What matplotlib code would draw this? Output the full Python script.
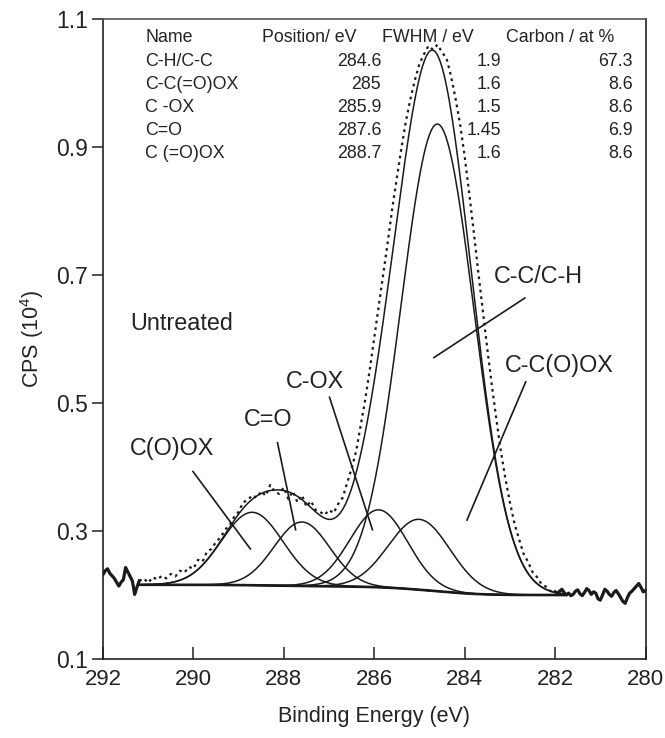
import numpy as np
import matplotlib
matplotlib.use('Agg')
import matplotlib.pyplot as plt

plt.rcParams['font.family'] = ['Liberation Sans', 'DejaVu Sans']
plt.rcParams['mathtext.fontset'] = 'custom'
plt.rcParams['mathtext.rm'] = 'Liberation Sans'
plt.rcParams['mathtext.default'] = 'regular'

# ---- fitted component table (as printed in the chart) ----
names = ['C-H/C-C', 'C-C(=O)OX', 'C -OX', 'C=O', 'C (=O)OX']
positions = [284.6, 285.0, 285.9, 287.6, 288.7]
position_labels = ['284.6', '285', '285.9', '287.6', '288.7']
fwhm = [1.9, 1.6, 1.5, 1.45, 1.6]
fwhm_labels = ['1.9', '1.6', '1.5', '1.45', '1.6']
carbon_labels = ['67.3', '8.6', '8.6', '6.9', '8.6']
# peak heights above background
heights = [0.73, 0.11, 0.121, 0.10, 0.114]
bg_high = 0.216   # background level at high-BE end of fit range
bg_low = 0.200    # background level at low-BE end of fit range
fit_start, fit_end = 291.2, 281.8

E_left = np.linspace(292.0, 291.2, 17)
cps_left = [0.232, 0.238, 0.241, 0.234, 0.230, 0.226, 0.220, 0.214, 0.220, 0.224,
            0.243, 0.236, 0.229, 0.222, 0.201, 0.212, 0.222]
E_mid = np.linspace(291.2, 282.0, 93)
cps_mid = [0.222, 0.226, 0.219, 0.228, 0.224, 0.230, 0.226, 0.233, 0.229, 0.238,
           0.235, 0.244, 0.241, 0.255, 0.252, 0.268, 0.272, 0.283, 0.290, 0.302,
           0.309, 0.322, 0.330, 0.345, 0.348, 0.356, 0.352, 0.362, 0.355, 0.372,
           0.361, 0.358, 0.368, 0.350, 0.362, 0.345, 0.356, 0.338, 0.347, 0.333,
           0.330, 0.325, 0.333, 0.328, 0.342, 0.352, 0.375, 0.398, 0.425, 0.465,
           0.505, 0.552, 0.602, 0.652, 0.702, 0.752, 0.805, 0.852, 0.898, 0.940,
           0.975, 1.005, 1.030, 1.045, 1.058, 1.052, 1.060, 1.048, 1.038, 1.010,
           0.975, 0.935, 0.885, 0.828, 0.768, 0.705, 0.645, 0.585, 0.528, 0.475,
           0.425, 0.382, 0.345, 0.312, 0.288, 0.265, 0.252, 0.236, 0.228, 0.217,
           0.213, 0.206, 0.205]
E_right = np.linspace(282.0, 280.0, 41)
cps_right = [0.205, 0.203, 0.206, 0.209, 0.204, 0.200, 0.203, 0.199, 0.201, 0.206,
             0.208, 0.202, 0.199, 0.204, 0.210, 0.207, 0.201, 0.205, 0.203, 0.194,
             0.192, 0.200, 0.209, 0.206, 0.201, 0.198, 0.204, 0.207, 0.202, 0.196,
             0.190, 0.187, 0.196, 0.203, 0.206, 0.210, 0.214, 0.218, 0.212, 0.205,
             0.207]

x_ticks = [292, 290, 288, 286, 284, 282, 280]
y_ticks = [0.1, 0.3, 0.5, 0.7, 0.9, 1.1]

# ---- peak model from the table parameters ----
E_fit = np.linspace(fit_start, fit_end, 471)
comps = []
for p, w, h in zip(positions, fwhm, heights):
    s = w / (2 * np.sqrt(2 * np.log(2)))
    comps.append(h * np.exp(-0.5 * ((E_fit - p) / s) ** 2))
total = np.sum(comps, axis=0)
cum = np.cumsum(total[::-1])[::-1]
bg = bg_low + (bg_high - bg_low) * cum / cum[0]

fig = plt.figure(figsize=(6.65, 7.38), dpi=100)
ax = fig.add_axes([0.1549, 0.107, 0.8158, 0.8673])

ink = '#1a1a1a'
lw_c = 1.1
for c in comps:
    ax.plot(E_fit, bg + c, color=ink, lw=lw_c)
ax.plot(E_fit, bg, color=ink, lw=1.9)
ax.plot(E_fit, bg + total, color=ink, lw=lw_c)

ax.plot(E_mid, cps_mid, color=ink, lw=1.6, ls=(0, (1.2, 1.8)))
ax.plot(E_left, cps_left, color=ink, lw=2.3)
ax.plot(E_right, cps_right, color=ink, lw=2.3)

ax.set_xlim(292, 280)
ax.set_ylim(0.1, 1.1)
ax.set_xticks(x_ticks)
ax.set_xticklabels([str(t) for t in x_ticks])
ax.set_yticks(y_ticks)
ax.set_yticklabels(['%.1f' % t for t in y_ticks])
ax.tick_params(axis='x', direction='in', length=9, width=1.1, labelsize=16, pad=7,
               colors='#222222')
ax.tick_params(axis='y', direction='out', length=8, width=1.1, labelsize=16.5, pad=3,
               colors='#222222')
for sp in ax.spines.values():
    sp.set_linewidth(1.2)
    sp.set_color('#222222')
ax.spines['top'].set_color('#555555')

ax.set_xlabel('Binding Energy (eV)', fontsize=15.5, color='#222222', labelpad=12)
ax.set_ylabel('CPS (10$^4$)', fontsize=15.5, color='#222222')
ax.yaxis.set_label_coords(-0.105, 0.5)

# ---- table ----
tfs = 12.8
tc = '#222222'
head_y = 1.071
row_y = [1.034, 0.998, 0.962, 0.926, 0.890]
ax.text(291.07, head_y, 'Name', fontsize=tfs, color=tc, va='center', ha='left')
ax.text(288.49, head_y, 'Position/ eV', fontsize=tfs, color=tc, va='center', ha='left')
ax.text(285.82, head_y, 'FWHM / eV', fontsize=tfs, color=tc, va='center', ha='left')
ax.text(283.09, head_y, 'Carbon / at %', fontsize=tfs, color=tc, va='center', ha='left')
for y, n, p, f, c in zip(row_y, names, position_labels, fwhm_labels, carbon_labels):
    ax.text(291.07, y, n, fontsize=tfs, color=tc, va='center', ha='left')
    ax.text(285.85, y, p, fontsize=tfs, color=tc, va='center', ha='right')
    ax.text(283.20, y, f, fontsize=tfs, color=tc, va='center', ha='right')
    ax.text(280.29, y, c, fontsize=tfs, color=tc, va='center', ha='right')

# ---- labels with leader lines ----
lfs = 16.8
ax.text(291.40, 0.624, 'Untreated', fontsize=lfs, color=tc, va='center', ha='left')
peak_labels = ['C-C/C-H', 'C-C(O)OX', 'C-OX', 'C=O', 'C(O)OX']
label_xy = [(283.35, 0.698, 'left'), (283.11, 0.559, 'left'), (287.32, 0.534, 'center'),
            (288.34, 0.475, 'center'), (290.48, 0.429, 'center')]
leaders = [((284.68, 0.571), (282.67, 0.664)),
           ((283.95, 0.317), (282.65, 0.533)),
           ((286.99, 0.509), (286.04, 0.302)),
           ((288.14, 0.438), (287.74, 0.302)),
           ((290.01, 0.393), (288.74, 0.272))]
for lab, (lx, ly, ha), (p0, p1) in zip(peak_labels, label_xy, leaders):
    ax.text(lx, ly, lab, fontsize=lfs, color=tc, va='center', ha=ha)
    ax.plot([p0[0], p1[0]], [p0[1], p1[1]], color=ink, lw=1.2)

fig.savefig('out.png', dpi=100)
